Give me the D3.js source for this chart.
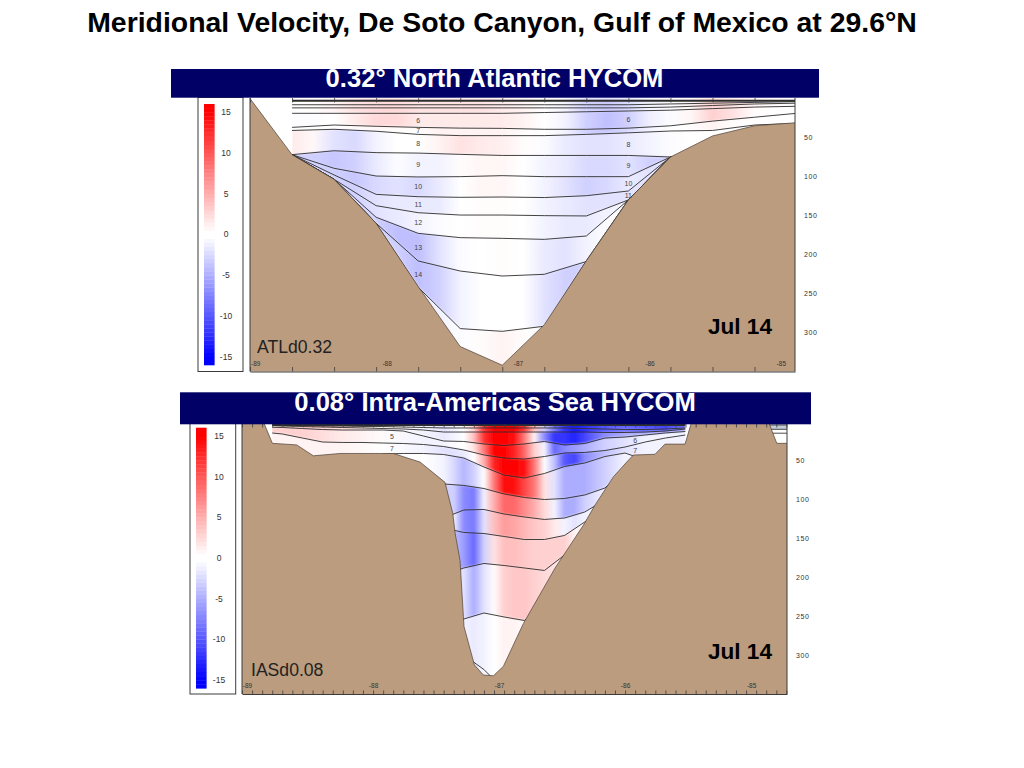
<!DOCTYPE html>
<html><head><meta charset="utf-8">
<script src="https://d3js.org/d3.v7.min.js"></script>
<style>
html,body{margin:0;padding:0;background:#fff;}
svg{display:block;font-family:"Liberation Sans",Arial,sans-serif;}
</style></head><body>
<svg id="c" width="1024" height="768"></svg>
<script>
const mainTitle="Meridional Velocity, De Soto Canyon, Gulf of Mexico at 29.6°N";
const lonTicks=[-89,-88,-87,-86,-85];
const depthTicks=[50,100,150,200,250,300];
const barTicks=[15,10,5,0,-5,-10,-15];

// ---- 0.32 degree panel ----
const bathyLonA=[-89.04,-88.72,-88.4,-88.08,-87.76,-87.44,-87.12,-86.8,-86.48,-86.16,-85.84,-85.52,-85.2,-84.88];
const bathyDepA=[0,72,103.6,160,241,318,342,290,208,130,75,48,35,31];
const nodeLonA=[-88.72,-88.4,-88.08,-87.76,-87.44,-87.12,-86.8,-86.48,-86.16,-85.84,-85.52,-85.2,-84.88];
const ifSurfA=[0,0,0,0,0,0,0,0,0,0,0,0,0];
const ifT1A=[3,3,3,3,3,3,3,3,3,3,3,3,3];
const ifT2A=[8,8,8,8,8,8,8,8,8,7,6,5,4];
const ifT3A=[12,12,12,12,12,12,12,12,12,11,9,7,6];
const ifT4A=[19,19,19,19,19,19,18,17,16,15,13,11,10];
const ifL6A=[37,34,35.6,37,38,38.3,39.5,39.5,38,35,29,24,19];
const ifL7A=[41,39.5,42,46,47.6,47.6,47.6,46,44,41.7,41,34,31.8];
const ifL8A=[72,67,69.4,70,71.6,73,73,73,73,75,75,75,75];
const ifL9A=[72,89.5,99.4,100.6,100.2,98.9,100.2,100.2,100.2,75,75,75,75];
const ifL10A=[72,98,122.9,125.9,126.7,126.3,127,124.6,118.6,75,75,75,75];
const ifL11A=[72,103.6,137.4,146.4,149.4,149.4,150.2,150.6,130,75,75,75,75];
const ifL12A=[72,103.6,152.3,172.9,178.4,179.3,180.6,176.3,130,75,75,75,75];
const ifL13A=[72,103.6,160,208.3,221.2,227.6,225.4,209,130,75,75,75,75];
const ifL14A=[72,103.6,160,242,295,298.5,292,208,130,75,75,75,75];
const ifBotA=[360,360,360,360,360,360,360,360,360,360,360,360,360];
const velLonA=[-88.72,-88.56,-88.4,-88.24,-88.08,-87.92,-87.76,-87.6,-87.44,-87.28,-87.12,-86.96,-86.8,-86.64,-86.48,-86.32,-86.16,-86,-85.84,-85.68,-85.52,-85.36,-85.2,-85.04,-84.88];
const vSurfA=[0,0.5,1,2,2.5,2.5,2,2,2,2,1.5,1,0,-1,-3,-3.5,-2.5,-1,-0.5,1,3,2,1,0.5,0];
const v6A=[-0.5,-0.5,0.3,1.5,2.5,2.5,1.5,1.5,1.5,1.5,1.5,1,0,-1,-3,-4,-3,-1.2,-0.5,0.8,3,2,0.5,0,0];
const v7A=[-0.5,-0.3,0,0.5,0.7,0.5,0.5,1,1,1,1,0.5,0,-1,-3,-3.5,-2.5,-1,-0.3,0.5,1,0.5,0,0,0];
const v8A=[1.5,0.7,-2,-2.5,-1,0,0,1,2,1.5,1.2,0.5,-0.5,-1.5,-2,-2,-1.5,-1,-0.5,0,0,0,0,0,0];
const v9A=[-3,-3,-3.5,-3,-1.5,-0.5,-1,-1,0.5,0.8,0.8,0.3,-1,-1.5,-2.5,-2.5,-2,-3,-3,-3,-3,-3,-3,-3,-3];
const v10A=[-3,-3,-3,-3.5,-2.5,-2,-2.5,-1.5,0,0.8,0.8,-0.3,-1,-2,-3,-2.5,-1.5,-2,-2,-2,-2,-2,-2,-2,-2];
const v11A=[-3,-3,-3,-3,-2,-1.5,-1.5,-1.5,0,0.5,0.5,-0.3,-1,-1.5,-2,-2,-2,-2,-2,-2,-2,-2,-2,-2,-2];
const v12A=[-3,-3,-3,-3,-2,-1.5,-1,-0.5,0,0.5,0.5,0,-1,-1.5,-1.5,-1,-1,-1,-1,-1,-1,-1,-1,-1,-1];
const v13A=[-3,-3,-3,-3,-3,-4,-4,-2,-0.5,0.3,0.5,0,-1.5,-2,-1,-0.5,-0.5,-0.5,-0.5,-0.5,-0.5,-0.5,-0.5,-0.5,-0.5];
const v14A=[-3,-3,-3,-3,-3,-3,-4,-3,-1,0,0.3,0,-2,-3,-3,-3,-3,-3,-3,-3,-3,-3,-3,-3,-3];
const vBotA=[-1,-1,-1,-1,-1,-1,-1,-1,-0.5,0.5,1,0.5,-0.5,-1,-1,-1,-1,-1,-1,-1,-1,-1,-1,-1,-1];
const labTextA=["6","7","8","9","10","11","12","13","14","6","8","9","10","11"];
const labLonA=[-87.76,-87.76,-87.76,-87.76,-87.76,-87.76,-87.76,-87.76,-87.76,-86.16,-86.16,-86.16,-86.16,-86.16];
const labLayerA=[4,5,6,7,8,9,10,11,12,4,6,7,8,9];

// ---- 0.08 degree panel ----
const bathyLonB=[-89.04,-88.871,-88.799,-88.606,-88.474,-88.262,-87.839,-87.627,-87.429,-87.367,-87.349,-87.31,-87.283,-87.278,-87.196,-87.125,-87.045,-86.966,-86.807,-86.556,-86.331,-86.238,-86.093,-85.987,-85.934,-85.762,-85.683,-85.524,-85.471,-84.863,-84.796,-84.715];
const bathyDepB=[0,0,28,30,44,41,41,52,78,118,143,178,250,263,312,325,326,314,259,188,133,107,71,52,43,42,29,29,0,0,28,28];
const nodeLonB=[-88.88,-88.72,-88.56,-88.4,-88.24,-88.08,-87.92,-87.76,-87.6,-87.44,-87.28,-87.12,-86.96,-86.8,-86.64,-86.48,-86.32,-86.16,-86,-85.84,-85.68,-85.52];
const ifSurfB=[0,0,0,0,0,0,0,0,0,0,0,0,0,0,0,0,0,0,0,0,0,0];
const ifA_B=[4.5,4.5,4.5,4.5,4.5,4.5,4.5,4.5,4.5,4.5,4.5,4.5,4.5,4.5,4.5,4.5,4.5,4.5,4.5,4.5,4.5,4.5];
const ifB_B=[3.8,4.5,5.1,5.8,5.8,6.4,6.4,7.1,7.7,8.3,8.3,8.3,8.3,8.3,8.3,8.3,9,9.6,10.3,10.3,9.6,8.3];
const ifC_B=[4.5,5.8,6.4,7.1,7.7,8.3,9,9.6,10.9,13.5,13.5,13.5,13.5,13.5,13.5,13.5,13.5,14.1,14.1,13.5,12.2,9.6];
const ifU2B=[7.1,7.7,9,10.3,10.9,10.9,10.9,12.2,18.6,25,25.6,28.8,30.8,28.8,25.6,30.1,28.2,21.2,19.9,17.3,14.7,12.8];
const ifU3B=[13.5,16,21.2,26.3,26.9,26.9,27.6,28.2,29.5,32.1,36.5,42.9,46.8,48.1,44.9,40.4,39.7,37.2,32.7,26.3,21.2,17.3];
const ifU4B=[49.4,49.4,49.4,49.4,49.4,49.4,41.7,41,41,42.3,46.8,58.3,68.7,72.4,66.7,57.7,53.2,44.9,40.4,49.4,62.2,62.2];
const ifU5B=[100.6,100.6,100.6,100.6,100.6,100.6,100.6,100.6,100.6,80.1,82,85.9,92.9,97.4,100,98.7,94.2,85.3,62.2,62.2,62.2,62.2];
const ifU6B=[139.1,139.1,139.1,139.1,139.1,139.1,139.1,139.1,139.1,123.7,113.5,112.8,118.6,122.4,125.6,123.7,116,100.6,100.6,100.6,100.6,100.6];
const ifU7B=[177.6,177.6,177.6,177.6,177.6,177.6,177.6,177.6,177.6,136.5,142.3,143.6,147.4,151.3,151.3,146.1,128.8,113.5,113.5,113.5,113.5,113.5];
const ifU8B=[228.8,228.8,228.8,228.8,228.8,228.8,228.8,228.8,228.8,196.8,187.8,182,184.6,187.8,191,171.1,139.1,113.5,113.5,113.5,113.5,113.5];
const ifU9B=[293,293,293,293,293,293,293,293,293,267.3,253.2,245.5,250.6,255.1,235.2,177.6,139,113.5,113.5,113.5,113.5,113.5];
const ifU10B=[344,344,344,344,344,344,344,344,344,344,299.4,318,344,344,344,344,344,344,344,344,344,344];
const ifBotB=[360,360,360,360,360,360,360,360,360,360,360,360,360,360,360,360,360,360,360,360,360,360];
const velLonB=[-88.8,-88.56,-88.24,-87.92,-87.6,-87.44,-87.36,-87.28,-87.2,-87.12,-87.04,-86.96,-86.88,-86.8,-86.72,-86.64,-86.56,-86.48,-86.4,-86.32,-86.16,-86,-85.84,-85.68,-85.52];
const vSurfB=[1,4,3,1,-1,-2,-1,0,3,12,16,16,15,12,4,-3,-8,-12,-14,-13,-10,-9,-10,-11,-9];
const v5B=[2,4,2.5,0.5,-1,-1.5,-1,0,4,12,16,16,14,8,1,-7,-12,-12,-13,-11,-7,-5,-5,-6,-6];
const v6B=[3,3,1.5,0.5,-1,-1,-0.5,0,2,8,15,16,13,9,3,-1,-9,-7,-6,-5,-3,-2,-1,-1,-1];
const v7B=[1,1,1,-0.2,-1,-2,-2,-1.5,0,5,13,16,16,14,8,0,-4,-10,-11,-7,-4,-2,-1,-1,-1];
const v8B=[0,0,0,0,0,-1,-2.5,-4.5,-3,0,8,14,14,11,8,2,-2,-5,-5,-5,-3,-1,-1,-1,-1];
const v9B=[0,0,0,0,0,-3,-3,-7,-8,-1,5,9,9,7,5,2.5,-1,-5,-5,-3,-1,-1,-1,-1,-1];
const v10B=[0,0,0,0,0,-1,-1,-7,-8,-2,4,6,5.5,4.5,3.5,3,1.5,-1,-2,-1,-1,-1,-1,-1,-1];
const v11B=[0,0,0,0,0,-4,-4,-6,-9,-3,2,4,4,3.5,3,3,3,3,1,1,1,1,1,1,1];
const v12B=[0,0,0,0,0,-2,-2,-2,-5,-2,0.5,3,3.5,3.5,3,2.5,2,1,1,1,1,1,1,1,1];
const vBotB=[0,0,0,0,0,-1,-1,-1,-1.5,-1,0,1,1,0.5,0.5,0.5,0.5,0.5,0.5,0.5,0.5,0.5,0.5,0.5,0.5];
const stubLonB=[-84.86,-84.715];
const stubDepB=[4.5,10,15];
const labTextB=["5","7","6","7"];
const labLonB=[-87.85,-87.85,-85.92,-85.92];
const labLayerB=[4,5,4,5];

const svg=d3.select("#c");
const defs=svg.append("defs");
const velColor=d3.scaleLinear().domain([-15,-0.3,0.3,15]).range(["#0000ff","#ffffff","#ffffff","#ff0000"]).clamp(true);
const LAND="#bc9c7e", INK="#2e2e2e";
const soft=defs.append("filter").attr("id","soft").attr("filterUnits","userSpaceOnUse")
  .attr("x",200).attr("y",80).attr("width",640).attr("height",640);
soft.append("feGaussianBlur").attr("stdDeviation",0.9);

svg.append("text").attr("x",502).attr("y",32).attr("text-anchor","middle")
  .attr("font-size",28.4).attr("font-weight","bold").text(mainTitle);

function drawPanel(p){
  const g=svg.append("g");
  const x=d3.scaleLinear().domain(p.lonDomain).range([p.left,p.right]);
  const y=d3.scaleLinear().domain([0,350]).range([p.y0,p.y0+350*0.78]);
  const clipId="clip"+p.id, frameId="frame"+p.id;
  defs.append("clipPath").attr("id",clipId).append("rect")
    .attr("x",x(p.dataLon[0])).attr("y",p.top).attr("width",x(p.dataLon[1])-x(p.dataLon[0])).attr("height",p.bottom-p.top);
  defs.append("clipPath").attr("id",frameId).append("rect")
    .attr("x",p.left).attr("y",p.top).attr("width",p.right-p.left).attr("height",p.bottom-p.top);

  // layers with velocity gradients
  const data=g.append("g").attr("clip-path",`url(#${clipId})`);
  const fills=data.append("g").attr("filter","url(#soft)");
  const x0=x(p.velLon[0]), x1=x(p.velLon[p.velLon.length-1]);
  p.interfaces.slice(0,-1).forEach((upper,i)=>{
    const lower=p.interfaces[i+1];
    const gid=`g${p.id}${i}`;
    const grad=defs.append("linearGradient").attr("id",gid).attr("gradientUnits","userSpaceOnUse")
      .attr("x1",x0).attr("x2",x1).attr("y1",0).attr("y2",0);
    p.rows[i].forEach((v,j)=>{
      grad.append("stop").attr("offset",(x(p.velLon[j])-x0)/(x1-x0)).attr("stop-color",velColor(v));
    });
    const area=d3.area().x((d,k)=>x(p.nodeLon[k])).y0((d,k)=>y(upper[k])).y1((d,k)=>y(lower[k]));
    fills.append("path").attr("d",area(upper)).attr("fill",`url(#${gid})`);
  });
  const line=d3.line().x((d,k)=>x(p.nodeLon[k])).y(d=>y(d));
  p.interfaces.slice(1,-1).forEach((arr,i)=>{
    data.append("path").attr("d",line(arr)).attr("fill","none").attr("stroke",INK)
      .attr("stroke-width",i===0?2:0.9);
  });

  // right-hand stub of the IAS section
  if(p.stub){
    const fr=g.append("g").attr("clip-path",`url(#${frameId})`);
    fr.append("rect").attr("x",x(p.stub.lon[0])).attr("width",x(p.stub.lon[1])-x(p.stub.lon[0]))
      .attr("y",y(0)).attr("height",y(p.stub.dep[1])-y(0)).attr("fill","#c4ccd8");
    p.stub.dep.forEach(d=>fr.append("line").attr("x1",x(p.stub.lon[0])).attr("x2",x(p.stub.lon[1]))
      .attr("y1",y(d)).attr("y2",y(d)).attr("stroke",INK).attr("stroke-width",0.85));
  }

  // land
  const landLine=d3.line().x(d=>x(d[0])).y(d=>y(d[1]));
  const pts=d3.zip(p.bathyLon,p.bathyDep);
  const poly=[[p.lonDomain[0],0]].concat(pts,[[p.lonDomain[1],pts[pts.length-1][1]],[p.lonDomain[1],400],[p.lonDomain[0],400]]);
  const lg=g.append("g").attr("clip-path",`url(#${frameId})`);
  lg.append("path").attr("d",landLine(poly)+"Z").attr("fill",LAND);
  lg.append("path").attr("d",landLine(pts)).attr("fill","none").attr("stroke","#4a4036").attr("stroke-width",0.7);

  // layer labels
  p.labText.forEach((t,i)=>{
    const lon=p.labLon[i], up=p.interfaces[p.labLayer[i]], lo=p.interfaces[p.labLayer[i]+1];
    const at=d3.scaleLinear().domain(p.nodeLon);
    const d=(at.copy().range(up)(lon)+at.copy().range(lo)(lon))/2;
    g.append("text").attr("x",x(lon)).attr("y",y(d)).attr("dy","0.35em").attr("text-anchor","middle")
      .attr("font-size",7).attr("fill","#444").text(t);
  });

  // axes
  const ticks=d3.range(p.lonDomain[0],p.lonDomain[1]+1e-6,p.tickStep);
  const frameColor="#3c3c3c";
  const bot=g.append("g").attr("transform",`translate(0,${p.bottom})`)
    .call(d3.axisTop(x).tickValues(ticks).tickSize(p.tickLen).tickFormat("").tickSizeOuter(0));
  bot.selectAll("line").attr("stroke",frameColor).attr("stroke-width",0.8);
  bot.select(".domain").attr("stroke",frameColor);
  const top=g.append("g").attr("transform",`translate(0,${p.top})`)
    .call(d3.axisBottom(x).tickValues(ticks).tickSize(p.tickLen).tickFormat("").tickSizeOuter(0));
  top.selectAll("line").attr("stroke",frameColor).attr("stroke-width",0.8);
  top.select(".domain").remove();
  const lab=g.append("g").attr("transform",`translate(0,${p.bottom})`)
    .call(d3.axisTop(x).tickValues(lonTicks).tickSize(0).tickPadding(p.lonPad).tickFormat(d=>d));
  lab.select(".domain").remove();
  lab.selectAll("text").attr("font-size",6.5).attr("font-family","Liberation Sans").attr("fill","#333");
  const r=g.append("g").attr("transform",`translate(${p.right},0)`)
    .call(d3.axisRight(y).tickValues(depthTicks).tickSize(0).tickPadding(p.depPad));
  r.select(".domain").remove();
  r.selectAll("text").attr("font-size",7).attr("font-family","Liberation Sans").attr("fill","#333").attr("letter-spacing",0.6);
  g.append("line").attr("x1",p.left).attr("x2",p.left).attr("y1",p.top).attr("y2",p.bottom).attr("stroke",frameColor);
  g.append("line").attr("x1",p.right).attr("x2",p.right).attr("y1",p.top).attr("y2",p.bottom).attr("stroke",frameColor);

  // colour bar
  const by=d3.scaleLinear().domain([16,-16]).range([p.barTop,p.barBottom]);
  g.append("rect").attr("x",p.barBox[0]).attr("y",p.top-0.5).attr("width",p.barBox[1]-p.barBox[0]).attr("height",p.bottom-p.top+0.5)
    .attr("fill","#fff").attr("stroke",frameColor);
  d3.range(-16,16,0.5).forEach(v=>{
    g.append("rect").attr("x",p.barX).attr("width",10.6).attr("y",by(v+0.5)).attr("height",by(v)-by(v+0.5)+0.3)
      .attr("fill",velColor(v+0.25));
  });
  barTicks.forEach(t=>{
    g.append("text").attr("x",p.barLab).attr("y",by(t)).attr("dy","0.35em").attr("text-anchor","middle")
      .attr("font-size",8.5).attr("fill","#333").text(t);
  });

  // banner
  g.append("rect").attr("x",p.banner[0]).attr("y",p.banner[2]).attr("width",p.banner[1]-p.banner[0]).attr("height",p.banner[3]-p.banner[2]).attr("fill","#000066");
  g.append("text").attr("x",p.bannerTextX).attr("y",p.bannerBase).attr("text-anchor","middle")
    .attr("font-size",25.6).attr("font-weight","bold").attr("fill","#fff").text(p.bannerText);
  g.append("text").attr("x",p.tagX).attr("y",p.tagY).attr("font-size",17.6).attr("fill","#222").text(p.tag);
  g.append("text").attr("x",772).attr("y",p.dateY).attr("text-anchor","end").attr("font-size",22.6).attr("font-weight","bold").attr("fill","#000").text("Jul 14");
}

drawPanel({id:"A",left:250,right:795,top:98,bottom:371.5,y0:98.5,lonDomain:[-89.04,-84.892],dataLon:[-88.72,-84.892],
  tickStep:0.32,tickLen:4.5,lonPad:6,depPad:9,
  velLon:velLonA,nodeLon:nodeLonA,bathyLon:bathyLonA,bathyDep:bathyDepA,
  interfaces:[ifSurfA,ifT1A,ifT2A,ifT3A,ifT4A,ifL6A,ifL7A,ifL8A,ifL9A,ifL10A,ifL11A,ifL12A,ifL13A,ifL14A,ifBotA],
  rows:[vSurfA,vSurfA,vSurfA,vSurfA,v6A,v7A,v8A,v9A,v10A,v11A,v12A,v13A,v14A,vBotA],
  labText:labTextA,labLon:labLonA,labLayer:labLayerA,
  barBox:[198,243],barX:204,barLab:226,barTop:104,barBottom:365,
  banner:[171,819,69,97.7],bannerText:"0.32° North Atlantic HYCOM",bannerTextX:494.5,bannerBase:87,
  tag:"ATLd0.32",tagX:257,tagY:352.5,dateY:334});

drawPanel({id:"B",left:242,right:787,top:424,bottom:694,y0:421.5,lonDomain:[-89.04,-84.715],dataLon:[-88.8,-85.52],
  tickStep:0.08,tickLen:3.5,lonPad:6,depPad:9,
  velLon:velLonB,nodeLon:nodeLonB,bathyLon:bathyLonB,bathyDep:bathyDepB,
  interfaces:[ifSurfB,ifA_B,ifB_B,ifC_B,ifU2B,ifU3B,ifU4B,ifU5B,ifU6B,ifU7B,ifU8B,ifU9B,ifU10B,ifBotB],
  rows:[vSurfB,vSurfB,vSurfB,v5B,v6B,v7B,v8B,v9B,v10B,v11B,v12B,vBotB,vBotB],
  labText:labTextB,labLon:labLonB,labLayer:labLayerB,
  stub:{lon:stubLonB,dep:stubDepB},
  barBox:[190,235.7],barX:196,barLab:219,barTop:427.7,barBottom:688.3,
  banner:[180,811,392.3,424.3],bannerText:"0.08° Intra-Americas Sea HYCOM",bannerTextX:495,bannerBase:411,
  tag:"IASd0.08",tagX:251,tagY:675.5,dateY:659});
</script></body></html>
